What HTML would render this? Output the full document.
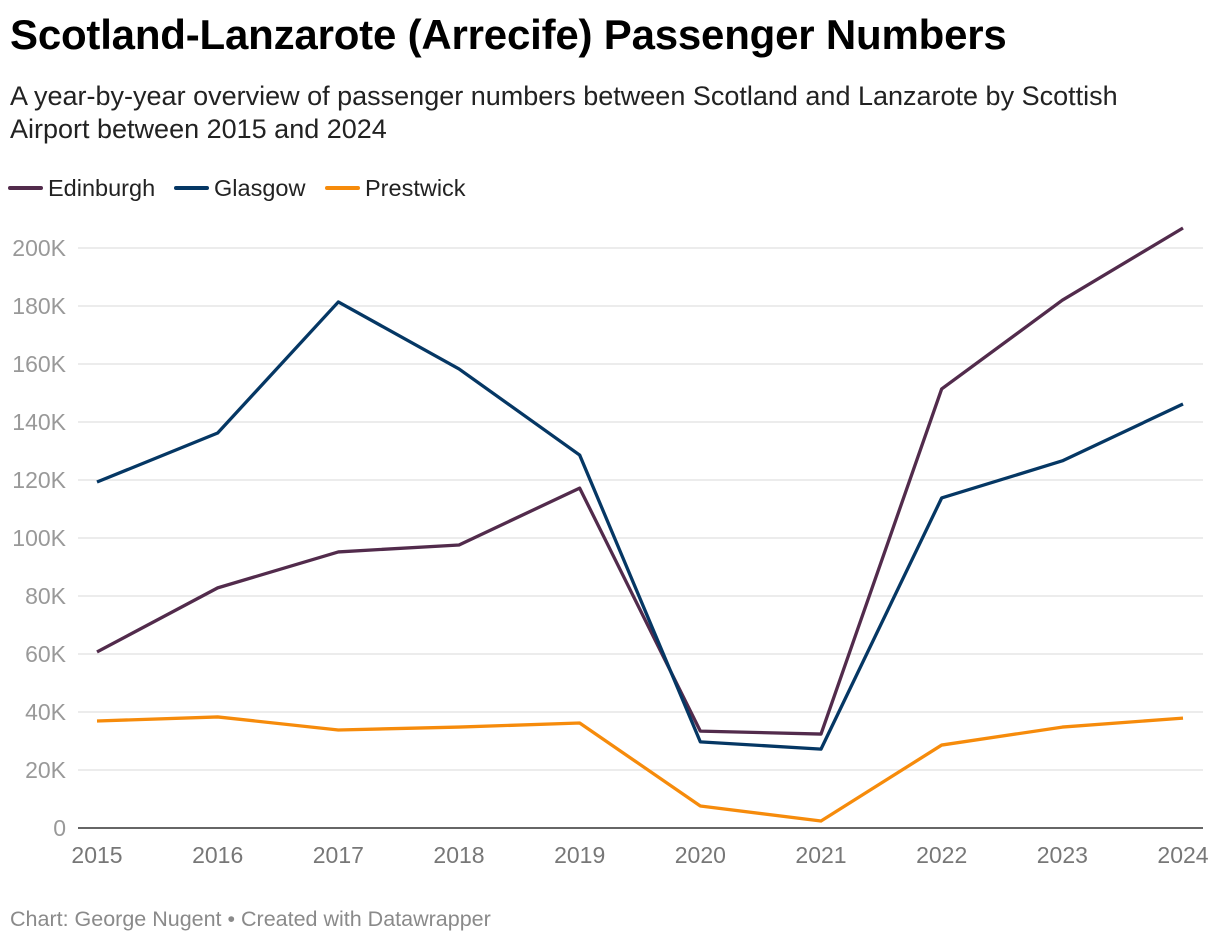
<!DOCTYPE html>
<html><head><meta charset="utf-8"><style>
body{margin:0;background:#fff;font-family:"Liberation Sans",sans-serif;width:1220px;height:944px;overflow:hidden;position:relative}
.t{position:absolute;left:10px;top:11px;font-size:42px;font-weight:bold;color:#000;margin:0;letter-spacing:-0.2px}
.s{position:absolute;left:10px;top:80px;font-size:27px;line-height:33px;color:#222;width:1160px}
.f{position:absolute;left:10px;top:907px;font-size:21.5px;color:#8a8a8a}
</style></head><body>
<h1 class="t">Scotland-Lanzarote (Arrecife) Passenger Numbers</h1>
<div class="s">A year-by-year overview of passenger numbers between Scotland and Lanzarote by Scottish Airport between 2015 and 2024</div>
<svg id="c" width="1220" height="944" style="position:absolute;left:0;top:0"></svg>
<div class="f">Chart: George Nugent • Created with Datawrapper</div>
<script>
const years=[2015,2016,2017,2018,2019,2020,2021,2022,2023,2024];
const edinburgh=[60.7,82.8,95.2,97.6,117.2,33.4,32.4,151.4,182,206.9];
const glasgow=[119.3,136.2,181.4,158.3,128.6,29.7,27.2,113.8,126.6,146.2];
const prestwick=[36.9,38.3,33.8,34.8,36.2,7.6,2.4,28.6,34.8,37.9];
const yTicks=[0,20,40,60,80,100,120,140,160,180,200];
const NS="http://www.w3.org/2000/svg";
const svg=document.getElementById('c');
const x=i=>97+i*(1183-97)/(years.length-1);
const y=v=>828-v*2.9;
function mk(t,a,txt){const e=document.createElementNS(NS,t);for(const k in a)e.setAttribute(k,a[k]);if(txt!==undefined)e.textContent=txt;svg.appendChild(e);return e;}
yTicks.forEach(v=>{
  const l=mk('line',{x1:78,x2:1203,y1:y(v),y2:y(v),stroke:v===0?'#333':'#e0e0e0','stroke-width':v===0?1.5:1.3});
  
  
  const t=mk('text',{x:66,y:y(v)+8,'text-anchor':'end','font-size':23,fill:'#999','font-family':'Liberation Sans'},v===0?'0':v+'K');
  
  
});
years.forEach((yr,i)=>{
  const t=mk('text',{x:x(i),y:863,'text-anchor':'middle','font-size':23,fill:'#777','font-family':'Liberation Sans'},yr);
  
  
});
const series=[['edinburgh',edinburgh,'#522b4c'],['glasgow',glasgow,'#053764'],['prestwick',prestwick,'#f68b0b']];
series.forEach(([n,d,c])=>{
  const p=mk('polyline',{points:d.map((v,i)=>x(i)+','+y(v)).join(' '),fill:'none',stroke:c,'stroke-width':3.3,'stroke-linejoin':'round'});
  
  
});
const leg=[['Edinburgh','#522b4c',10],['Glasgow','#053764',176],['Prestwick','#f68b0b',327]];
leg.forEach(([n,c,lx])=>{
  const g=document.createElementNS(NS,'g');svg.appendChild(g);
  
  
  const l=document.createElementNS(NS,'line');
  l.setAttribute('x1',lx);l.setAttribute('x2',lx+31);l.setAttribute('y1',188);l.setAttribute('y2',188);
  l.setAttribute('stroke',c);l.setAttribute('stroke-width',4);l.setAttribute('stroke-linecap','round');g.appendChild(l);
  const t=document.createElementNS(NS,'text');
  t.setAttribute('x',lx+38);t.setAttribute('y',196);t.setAttribute('font-size',23.5);t.setAttribute('fill','#222');t.setAttribute('font-family','Liberation Sans');
  t.textContent=n;g.appendChild(t);
});
</script>
</body></html>
